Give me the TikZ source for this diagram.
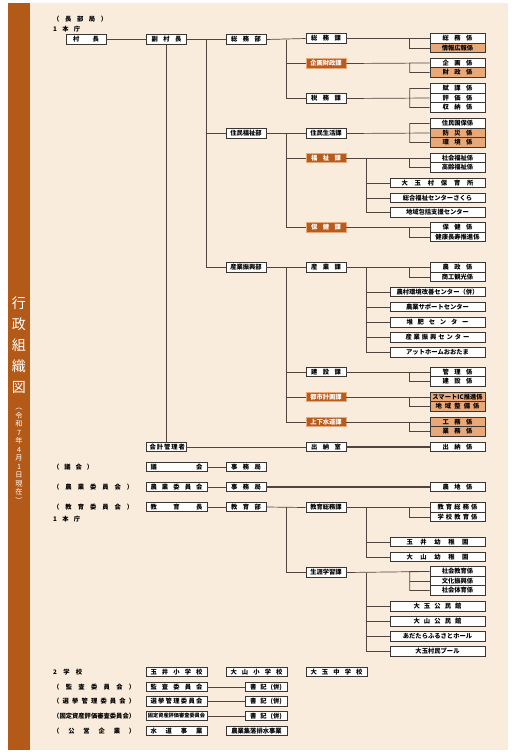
\documentclass[tikz,border=0pt]{standalone}
\usepackage{fontspec}
\setmainfont{Noto Sans CJK JP}
\usepackage{xcolor}
\usetikzlibrary{positioning}
\definecolor{cream}{RGB}{250,236,221}
\definecolor{bar}{RGB}{180,90,24}
\definecolor{kaorange}{RGB}{184,92,30}
\definecolor{kakaric}{RGB}{233,168,120}
\definecolor{linec}{RGB}{82,68,60}
\definecolor{boxc}{RGB}{58,54,52}

\newcommand{\spr}[2]{\makebox[#1][s]{#2}}
\newcommand{\nar}{\fontsize{5.2}{6}\selectfont}

\tikzset{
  box/.style={draw=boxc, line width=.7pt, fill=white, inner sep=0pt, minimum height=9.5pt,
    font=\bfseries\fontsize{6.3}{7}\selectfont},
  bubox/.style={box, minimum width=40pt},
  widebox/.style={box, minimum width=61pt},
  kakaribox/.style={box, minimum width=55pt},
  shisetsubox/.style={box, minimum width=95pt},
  orkabox/.style={bubox, fill=kaorange, draw=kakaric, text=white},
  orkakaribox/.style={kakaribox, fill=kakaric},
  link/.style={draw=linec, line width=.7pt},
  heavy/.style={draw=linec, line width=1.7pt},
  lbl/.style={anchor=west, inner sep=0pt, font=\bfseries\fontsize{6.3}{7}\selectfont}
}

\begin{document}
\begin{tikzpicture}[x=1pt,y=-1pt]
	\useasboundingbox (0,0) rectangle (519,756);
	\fill[cream] (30,3) rectangle (508,750);
	\fill[bar] (8,3) rectangle (30,750);
	
	\node[text=white, font=\fontsize{14}{21}\selectfont, align=center] (title) at (19,345) {行\\政\\組\\織\\図};
	\node[text=white, font=\fontsize{7.2}{8.5}\selectfont, align=center, inner sep=0pt] (date) at (19,456) {︵\\令\\和\\7\\年\\4\\月\\1\\日\\現\\在\\︶};
	
	% 長部局
	\node[lbl] (l-chobu) at (53,19) {\spr{54pt}{（ 長 部 局 ）}};
	\node[lbl] (l-honcho) at (53,29) {\spr{27pt}{1 本 庁}};
	
	\node[bubox] (soncho) at (86,39.5) {\spr{26pt}{村 長}};
	\node[bubox] (fuku) at (166.5,39.5) {\spr{30pt}{副 村 長}};
	\node[bubox] (somubu) at (246,39.5) {\spr{30pt}{総 務 部}};
	\node[bubox] (fukushibu) at (246,133.5) {住民福祉部};
	\node[bubox] (sangyobu) at (246,267.5) {産業振興部};
	\node[bubox] (kaikei) at (166.5,447) {\spr{34pt}{会 計 管 理 者}};
	
	% 課
	\node[bubox] (somuka) at (326,38.5) {\spr{30pt}{総 務 課}};
	\node[orkabox] (kikaku) at (326,63.5) {企画財政課};
	\node[bubox] (zeimu) at (326,98.5) {\spr{30pt}{税 務 課}};
	\node[bubox] (seikatsu) at (326,133.5) {住民生活課};
	\node[orkabox] (fukushi) at (326,158) {\spr{30pt}{福 祉 課}};
	\node[orkabox] (hoken) at (326,227.5) {\spr{30pt}{保 健 課}};
	\node[bubox] (sangyo) at (326,267.5) {\spr{30pt}{産 業 課}};
	\node[bubox] (kensetsu) at (326,372) {\spr{30pt}{建 設 課}};
	\node[orkabox] (toshi) at (326,397) {都市計画課};
	\node[orkabox] (gesui) at (326,422) {上下水道課};
	\node[bubox] (suito) at (326,447) {\spr{30pt}{出 納 室}};
	
	% 係
	\node[kakaribox] (g-somu) at (457.5,38.5) {\spr{30pt}{総 務 係}};
	\node[orkakaribox] (g-joho) at (457.5,48) {情報広報係};
	\node[kakaribox] (g-kikaku) at (457.5,63) {\spr{30pt}{企 画 係}};
	\node[orkakaribox] (g-zaisei) at (457.5,72.5) {\spr{30pt}{財 政 係}};
	\node[kakaribox] (g-fuka) at (457.5,88.5) {\spr{30pt}{賦 課 係}};
	\node[kakaribox] (g-hyoka) at (457.5,98) {\spr{30pt}{評 価 係}};
	\node[kakaribox] (g-shuno) at (457.5,107.5) {\spr{30pt}{収 納 係}};
	\node[kakaribox] (g-kokuho) at (457.5,123.5) {住民国保係};
	\node[orkakaribox] (g-bosai) at (457.5,133) {\spr{30pt}{防 災 係}};
	\node[orkakaribox] (g-kankyo) at (457.5,142.5) {\spr{30pt}{環 境 係}};
	\node[kakaribox] (g-shafuku) at (457.5,158) {社会福祉係};
	\node[kakaribox] (g-korei) at (457.5,167.5) {高齢福祉係};
	\node[kakaribox] (g-hoken) at (457.5,227.5) {\spr{30pt}{保 健 係}};
	\node[kakaribox] (g-choju) at (457.5,237) {健康長寿推進係};
	\node[kakaribox] (g-nosei) at (457.5,267.5) {\spr{30pt}{農 政 係}};
	\node[kakaribox] (g-shoko) at (457.5,277) {商工観光係};
	\node[kakaribox] (g-kanri) at (457.5,372) {\spr{30pt}{管 理 係}};
	\node[kakaribox] (g-kensetsu) at (457.5,381.5) {\spr{30pt}{建 設 係}};
	\node[orkakaribox] (g-ic) at (457.5,397) {スマートIC推進係};
	\node[orkakaribox] (g-seibi) at (457.5,406.5) {\spr{44pt}{地 域 整 備 係}};
	\node[orkakaribox] (g-komu) at (457.5,422) {\spr{30pt}{工 務 係}};
	\node[orkakaribox] (g-gyomu) at (457.5,431.5) {\spr{30pt}{業 務 係}};
	\node[kakaribox] (g-suito) at (457.5,447) {\spr{30pt}{出 納 係}};
	\node[kakaribox] (g-nochi) at (457.5,487) {\spr{30pt}{農 地 係}};
	
	% 施設
	\node[shisetsubox] (hoikusho) at (437.5,183) {\spr{72pt}{大 玉 村 保 育 所}};
	\node[shisetsubox] (sakura) at (437.5,198) {総合福祉センターさくら};
	\node[shisetsubox] (hokatsu) at (437.5,212.5) {地域包括支援センター};
	\node[shisetsubox] (kaizen) at (437.5,292) {農村環境改善センター（併）};
	\node[shisetsubox] (support) at (437.5,307) {農業サポートセンター};
	\node[shisetsubox] (taihi) at (437.5,322.5) {\spr{62pt}{堆 肥 セ ン タ ー}};
	\node[shisetsubox] (shinko) at (437.5,337.5) {\spr{64pt}{産 業 振 興 セ ン タ ー}};
	\node[shisetsubox] (athome) at (437.5,352.5) {アットホームおおたま};
	
	% 長部局の線
	\draw[link] (soncho.east) -- (fuku.west);
	\draw[link] (fuku.east) -- (somubu.west);
	\draw[link] (fuku.east) ++(19.5,0) |- (fukushibu.west);
	\draw[link] (fuku.east) ++(19.5,0) |- (sangyobu.west);
	\draw[link] (fuku.south) -- (kaikei.north);
	\draw[link] (kaikei.east) -- (suito.west);
	\draw[heavy] (suito.east) -- (g-suito.west);
	
	\draw[link] (somubu.east) -- (somuka.west);
	\draw[link] (somubu.east) ++(20,0) |- (kikaku.west);
	\draw[link] (somubu.east) ++(20,0) |- (zeimu.west);
	\draw[link] (fukushibu.east) -- (seikatsu.west);
	\draw[link] (fukushibu.east) ++(20,0) |- (fukushi.west);
	\draw[link] (fukushibu.east) ++(20,0) |- (hoken.west);
	\draw[link] (sangyobu.east) -- (sangyo.west);
	\draw[link] (sangyobu.east) ++(20,0) |- (kensetsu.west);
	\draw[link] (sangyobu.east) ++(20,0) |- (toshi.west);
	\draw[link] (sangyobu.east) ++(20,0) |- (gesui.west);
	
	\draw[link] (somuka.east) -- (g-somu.west) (g-joho.west) -- ++(-20,0) |- (g-somu.west);
	\draw[link] (kikaku.east) -- (g-kikaku.west) (g-zaisei.west) -- ++(-20,0) |- (g-kikaku.west);
	\draw[link] (zeimu.east) -- (g-hyoka.west) (g-fuka.west) -- ++(-20,0) |- (g-shuno.west);
	\draw[link] (seikatsu.east) -- (g-bosai.west) (g-kokuho.west) -- ++(-20,0) |- (g-kankyo.west);
	\draw[link] (fukushi.east) -- (g-shafuku.west) (g-korei.west) -- ++(-20,0) |- (g-shafuku.west);
	\draw[link] (hoken.east) -- (g-hoken.west) (g-choju.west) -- ++(-20,0) |- (g-hoken.west);
	\draw[link] (sangyo.east) -- (g-nosei.west) (g-shoko.west) -- ++(-20,0) |- (g-nosei.west);
	\draw[link] (kensetsu.east) -- (g-kanri.west) (g-kensetsu.west) -- ++(-20,0) |- (g-kanri.west);
	\draw[link] (toshi.east) -- (g-ic.west) (g-seibi.west) -- ++(-20,0) |- (g-ic.west);
	\draw[link] (gesui.east) -- (g-komu.west) (g-gyomu.west) -- ++(-20,0) |- (g-komu.west);
	
	\foreach \s in {hoikusho,sakura,hokatsu}
		\draw[link] (fukushi.east) ++(20,0) |- (\s.west);
	\foreach \s in {kaizen,support,taihi,shinko,athome}
		\draw[link] (sangyo.east) ++(20,0) |- (\s.west);
	
	% 議会・農業委員会
	\node[lbl] (l-gikai) at (53,467) {\spr{40pt}{（ 議 会 ）}};
	\node[widebox] (gikai) at (176.5,467) {\spr{52pt}{議 会}};
	\node[bubox] (jimu1) at (246,467) {\spr{30pt}{事 務 局}};
	\node[lbl] (l-nogyo) at (53,487) {\spr{80pt}{（ 農 業 委 員 会 ）}};
	\node[widebox] (nogyo) at (176.5,487) {\spr{52pt}{農 業 委 員 会}};
	\node[bubox] (jimu2) at (246,487) {\spr{30pt}{事 務 局}};
	\draw[link] (gikai.east) -- (jimu1.west);
	\draw[link] (nogyo.east) -- (jimu2.west);
	\draw[heavy] (jimu2.east) -- (g-nochi.west);
	
	% 教育委員会
	\node[lbl] (l-kyoiku) at (53,507) {\spr{80pt}{（ 教 育 委 員 会 ）}};
	\node[lbl] (l-honcho2) at (53,519) {\spr{27pt}{1 本 庁}};
	\node[widebox] (kyoikucho) at (176.5,507) {\spr{52pt}{教 育 長}};
	\node[bubox] (kyoikubu) at (246,507) {\spr{30pt}{教 育 部}};
	\node[bubox] (kyosomu) at (326,507.5) {教育総務課};
	\node[bubox] (shogai) at (326,572.5) {生涯学習課};
	\node[kakaribox] (g-kyosomu) at (457.5,507.5) {\spr{40pt}{教 育 総 務 係}};
	\node[kakaribox] (g-gakko) at (457.5,517) {\spr{40pt}{学 校 教 育 係}};
	\node[kakaribox] (g-shakyo) at (457.5,571.5) {社会教育係};
	\node[kakaribox] (g-bunka) at (457.5,581) {文化振興係};
	\node[kakaribox] (g-taiiku) at (457.5,590.5) {社会体育係};
	\node[shisetsubox] (tamai-yo) at (437.5,542) {\spr{62pt}{玉 井 幼 稚 園}};
	\node[shisetsubox] (oyama-yo) at (437.5,557) {\spr{62pt}{大 山 幼 稚 園}};
	\node[shisetsubox] (otama-ko) at (437.5,606.5) {\spr{48pt}{大 玉 公 民 館}};
	\node[shisetsubox] (oyama-ko) at (437.5,621.5) {\spr{48pt}{大 山 公 民 館}};
	\node[shisetsubox] (hall) at (437.5,636.5) {あだたらふるさとホール};
	\node[shisetsubox] (pool) at (437.5,651.5) {大玉村民プール};
	
	\draw[link] (kyoikucho.east) -- (kyoikubu.west);
	\draw[link] (kyoikubu.east) -- (kyosomu.west);
	\draw[link] (kyoikubu.east) ++(20,0) |- (shogai.west);
	\draw[link] (kyosomu.east) -- (g-kyosomu.west) (g-gakko.west) -- ++(-20,0) |- (g-kyosomu.west);
	\draw[link] (shogai.east) -- (g-shakyo.west) (g-taiiku.west) -- ++(-20,0) |- (g-shakyo.west);
	\draw[link] (g-bunka.west) -- ++(-20,0);
	\foreach \s in {tamai-yo,oyama-yo}
		\draw[link] (kyosomu.east) ++(20,0) |- (\s.west);
	\foreach \s in {otama-ko,oyama-ko,hall,pool}
		\draw[link] (shogai.east) ++(20,0) |- (\s.west);
	
	% 学校・委員会
	\node[lbl] (l-gakko) at (53,672) {\spr{29pt}{2 学 校}};
	\node[widebox] (tamai-sho) at (176.5,672) {\spr{52pt}{玉 井 小 学 校}};
	\node[widebox] (oyama-sho) at (256.5,672) {\spr{52pt}{大 山 小 学 校}};
	\node[widebox] (otama-chu) at (336.5,672) {\spr{52pt}{大 玉 中 学 校}};
	
	\node[lbl] (l-kansa) at (53,687) {\spr{82pt}{（ 監 査 委 員 会 ）}};
	\node[widebox] (kansa) at (176.5,687) {\spr{52pt}{監 査 委 員 会}};
	\node[box, minimum width=42pt] (shoki1) at (266,687) {\spr{32pt}{書 記 (併)}};
	\node[lbl] (l-senkyo) at (53,701.5) {\spr{82pt}{（ 選 挙 管 理 委 員 会 ）}};
	\node[widebox] (senkyo) at (176.5,701.5) {\spr{52pt}{選 挙 管 理 委 員 会}};
	\node[box, minimum width=42pt] (shoki2) at (266,701.5) {\spr{32pt}{書 記 (併)}};
	\node[lbl] (l-kotei) at (53,716) {\spr{82pt}{（固定資産評価審査委員会）}};
	\node[widebox] (kotei) at (176.5,716) {\nar 固定資産評価審査委員会};
	\node[box, minimum width=42pt] (shoki3) at (266,716) {\spr{32pt}{書 記 (併)}};
	\draw[link] (kansa.east) -- (shoki1.west);
	\draw[link] (senkyo.east) -- (shoki2.west);
	\draw[link] (kotei.east) -- (shoki3.west);
	
	\node[lbl] (l-koei) at (53,731) {\spr{82pt}{（ 公 営 企 業 ）}};
	\node[widebox] (suido) at (176.5,731) {\spr{52pt}{水 道 事 業}};
	\node[widebox] (haisui) at (256.5,731) {農業集落排水事業};
\end{tikzpicture}
\end{document}
